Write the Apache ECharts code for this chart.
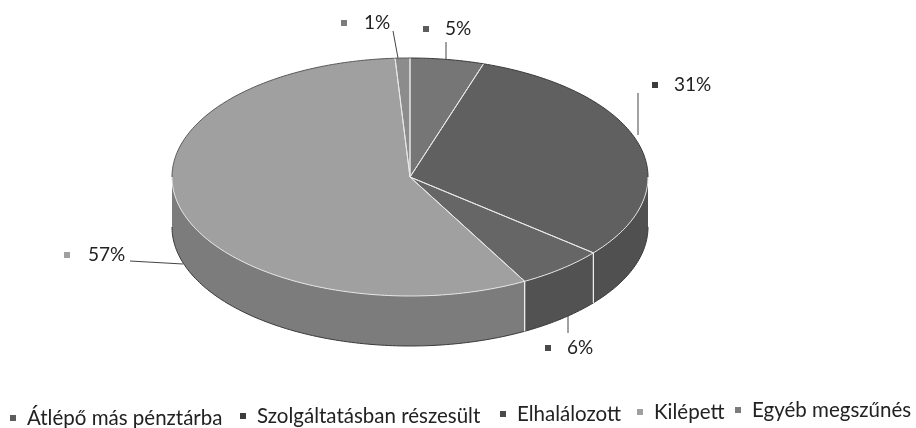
<!DOCTYPE html>
<html>
<head>
<meta charset="utf-8">
<script src="https://cdn.jsdelivr.net/npm/echarts@6/dist/echarts.min.js"></script>
<style>
  html, body { margin: 0; padding: 0; background: #fff; }
  #chart { width: 916px; height: 428px; }
</style>
</head>
<body>
<div id="chart"></div>
<script>
const categories = ['Átlépő más pénztárba', 'Szolgáltatásban részesült', 'Elhalálozott', 'Kilépett', 'Egyéb megszűnés']
const shares = [5, 31, 6, 57, 1]

const topColors = ['#767676', '#606060', '#666666', '#a0a0a0', '#8c8c8c']
const sideColors = ['#5c5c5c', '#505050', '#525252', '#7c7c7c', '#6c6c6c']
const markerColors = ['#5c5c5c', '#3c3c3c', '#4a4a4a', '#a0a0a0', '#7c7c7c']

// pie geometry
const cx = 410
const cy = 177
const rx = 238
const ry = 119
const depth = 50

// label box: marker x, text x, y, then the leader line
const labelLayout = [
  { mx: 426, tx: 445, y: 29, line: [[446, 42], [446, 59]] },
  { mx: 655, tx: 674, y: 85, line: [[638, 93], [638, 135]] },
  { mx: 548, tx: 567, y: 348, line: [[568, 315], [568, 333]] },
  { mx: 67, tx: 88, y: 255, line: [[130, 261], [183, 264]] },
  { mx: 344, tx: 364, y: 23, line: [[393, 31], [398, 58]] }
]

// the scanned legend runs slightly uphill, so each entry gets its own spot
const legendLeft = [10, 240, 500, 637, 735]
const legendMid = [418, 416, 414, 412, 410]

const total = shares.reduce((a, b) => a + b, 0)

function rimPoint(deg, drop) {
  const r = deg * Math.PI / 180
  return [cx + rx * Math.sin(r), cy - ry * Math.cos(r) + (drop || 0)]
}

function arcPoints(from, to, drop) {
  const pts = []
  for (let a = from; a < to; a += 1) {
    pts.push(rimPoint(a, drop))
  }
  pts.push(rimPoint(to, drop))
  return pts
}

function renderSlice(index) {
  const start = shares.slice(0, index).reduce((a, b) => a + b, 0) / total * 360
  const end = start + shares[index] / total * 360
  const children = []

  // side wall only shows on the front half
  const from = Math.max(start, 90)
  const to = Math.min(end, 270)
  if (to > from) {
    const upper = arcPoints(from, to, 0)
    const lower = arcPoints(from, to, depth)
    children.push({
      type: 'polygon',
      z2: 1,
      shape: { points: upper.concat(lower.slice().reverse()) },
      style: { fill: sideColors[index] }
    })
    children.push({
      type: 'polyline',
      z2: 3,
      shape: { points: lower },
      style: { stroke: '#3a3a3a', lineWidth: 1, fill: null }
    })
    children.push({
      type: 'polyline',
      z2: 3,
      shape: { points: upper },
      style: { stroke: '#e4e4e4', lineWidth: 1, fill: null }
    })
    ;[start, end].forEach((a) => {
      if (a > 90 && a < 270) {
        children.push({
          type: 'line',
          z2: 3,
          shape: { x1: rimPoint(a)[0], y1: rimPoint(a)[1], x2: rimPoint(a)[0], y2: rimPoint(a, depth)[1] },
          style: { stroke: '#f0f0f0', lineWidth: 1 }
        })
      }
    })
  }

  // top face
  children.push({
    type: 'polygon',
    z2: 2,
    shape: { points: [[cx, cy]].concat(arcPoints(start, end, 0)) },
    style: { fill: topColors[index] }
  })
  children.push({
    type: 'polyline',
    z2: 4,
    shape: { points: [rimPoint(start), [cx, cy], rimPoint(end)] },
    style: { stroke: '#e8e8e8', lineWidth: 1, fill: null }
  })

  // dark rim along the back of the pie
  const backEnd = Math.min(end, 90)
  if (backEnd > start) {
    children.push({
      type: 'polyline',
      z2: 4,
      shape: { points: arcPoints(start, backEnd, 0) },
      style: { stroke: '#3a3a3a', lineWidth: 1, fill: null }
    })
  }
  const backStart = Math.max(start, 270)
  if (end > backStart) {
    children.push({
      type: 'polyline',
      z2: 4,
      shape: { points: arcPoints(backStart, end, 0) },
      style: { stroke: '#5a5a5a', lineWidth: 1, fill: null }
    })
  }

  // data label
  const lab = labelLayout[index]
  children.push({
    type: 'rect',
    z2: 5,
    shape: { x: lab.mx - 3, y: lab.y - 3, width: 6, height: 6 },
    style: { fill: markerColors[index] }
  })
  children.push({
    type: 'text',
    z2: 5,
    x: lab.tx,
    y: lab.y,
    style: {
      text: Math.round(shares[index] / total * 100) + '%',
      fill: '#222',
      font: '19px Lato',
      verticalAlign: 'middle'
    }
  })
  children.push({
    type: 'polyline',
    z2: 5,
    shape: { points: lab.line },
    style: { stroke: '#444', lineWidth: 1, fill: null }
  })

  return { type: 'group', children }
}

const chart = echarts.init(document.getElementById('chart'), null, { renderer: 'canvas' })

chart.setOption({
  animation: false,
  backgroundColor: '#fff',
  legend: categories.map((name, i) => ({
    left: legendLeft[i],
    top: legendMid[i] - 12,
    icon: 'rect',
    itemWidth: 6,
    itemHeight: 6,
    padding: 0,
    selectedMode: false,
    data: [name],
    textStyle: { fontFamily: 'Lato', fontSize: 20.5, lineHeight: 24, color: '#222', padding: [0, 0, 0, 6] }
  })),
  series: categories.map((name, i) => ({
    name,
    type: 'custom',
    coordinateSystem: 'none',
    silent: true,
    itemStyle: { color: markerColors[i] },
    data: [shares[i]],
    renderItem: () => renderSlice(i)
  }))
})
</script>
</body>
</html>
